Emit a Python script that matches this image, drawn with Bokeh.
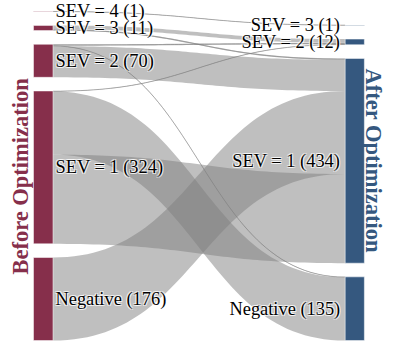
import numpy as np
from bokeh.plotting import figure
from bokeh.models import Range1d
from bokeh.core.properties import value
from bokeh.embed import file_html
from bokeh.resources import INLINE

# ---------------- data ----------------
left_nodes = ["SEV = 4", "SEV = 3", "SEV = 2", "SEV = 1", "Negative"]
left_counts = [1, 11, 70, 324, 176]
right_nodes = ["SEV = 3", "SEV = 2", "SEV = 1", "Negative"]
right_counts = [1, 12, 434, 135]

link_from = ["SEV = 4", "SEV = 3", "SEV = 3", "SEV = 2", "SEV = 2", "SEV = 2",
             "SEV = 1", "SEV = 1", "SEV = 1", "Negative"]
link_to = ["SEV = 3", "SEV = 2", "SEV = 1", "SEV = 2", "Negative", "SEV = 1",
           "SEV = 2", "Negative", "SEV = 1", "SEV = 1"]
link_value = [1, 8, 3, 3, 1, 66, 1, 134, 189, 176]

stack_rank = ["SEV = 4", "SEV = 3", "SEV = 2", "Negative", "SEV = 1"]
left_title = "Before Optimization"
right_title = "After Optimization"

# ---------------- layout ----------------
K = 0.4828      # px per unit
PAD = 14
BOTTOM = 356
LX0, LX1 = 33.5, 53.3
RX0, RX1 = 350.0, 369.5
LEFT_COLOR = "#862F4B"
RIGHT_COLOR = "#35587F"


def stack(counts):
    total = sum(counts) * K + (len(counts) - 1) * PAD
    y = BOTTOM - total
    tops, bots = [], []
    for c in counts:
        tops.append(y)
        bots.append(y + c * K)
        y += c * K + PAD
    return tops, bots


ltops, lbots = stack(left_counts)
rtops, rbots = stack(right_counts)
ltop = dict(zip(left_nodes, ltops))
rtop = dict(zip(right_nodes, rtops))

n = len(link_value)
src_y = [0.0] * n
tgt_y = [0.0] * n
for name in left_nodes:
    idx = [i for i in range(n) if link_from[i] == name]
    idx.sort(key=lambda i: stack_rank.index(link_to[i]))
    y = ltop[name]
    for i in idx:
        src_y[i] = y
        y += link_value[i] * K
for name in right_nodes:
    idx = [i for i in range(n) if link_to[i] == name]
    idx.sort(key=lambda i: stack_rank.index(link_from[i]))
    y = rtop[name]
    for i in idx:
        tgt_y[i] = y
        y += link_value[i] * K

t = np.linspace(0, 1, 60)
xm = (LX1 + RX0) / 2


def bez(y0, y1):
    x = (1 - t) ** 3 * LX1 + 3 * (1 - t) ** 2 * t * xm + 3 * (1 - t) * t ** 2 * xm + t ** 3 * RX0
    y = (1 - t) ** 3 * y0 + 3 * (1 - t) ** 2 * t * y0 + 3 * (1 - t) * t ** 2 * y1 + t ** 3 * y1
    return x, y


pxs, pys, lxs, lys = [], [], [], []
for i in range(n):
    h = link_value[i] * K
    xt, yt = bez(src_y[i], tgt_y[i])
    xb, yb = bez(src_y[i] + h, tgt_y[i] + h)
    pxs.append(list(xt) + list(xb[::-1]))
    pys.append(list(yt) + list(yb[::-1]))
    if link_value[i] <= 3:
        xc, yc = bez(src_y[i] + h / 2, tgt_y[i] + h / 2)
        lxs.append(list(xc))
        lys.append(list(yc))

# ---------------- figure ----------------
p = figure(width=388, height=342, output_backend="svg", toolbar_location=None,
           x_range=Range1d(0, 394), y_range=Range1d(358, 8), min_border=0)
p.axis.visible = False
p.grid.visible = False
p.outline_line_color = None
p.background_fill_color = "white"

p.patches(pxs, pys, fill_color="gray", fill_alpha=0.5, line_color=None)
p.multi_line(lxs, lys, line_color="gray", line_alpha=0.6, line_width=1)

p.quad(left=LX0, right=LX1, top=ltops, bottom=lbots, fill_color=LEFT_COLOR,
       line_color="white", line_width=0.5)
p.quad(left=RX0, right=RX1, top=rtops, bottom=rbots, fill_color=RIGHT_COLOR,
       line_color="white", line_width=0.5)

llabels = [f"{nm} ({c})" for nm, c in zip(left_nodes, left_counts)]
rlabels = [f"{nm} ({c})" for nm, c in zip(right_nodes, right_counts)]
lcy = [(a + b) / 2 for a, b in zip(ltops, lbots)]
rcy = [(a + b) / 2 for a, b in zip(rtops, rbots)]

font = value("Liberation Serif")
LFS = "18.4px"
for dx, dy in [(1, 1), (-1, -1), (1, -1), (-1, 1)]:
    p.text(x=[LX1 + 2.5] * len(llabels), y=lcy, text=llabels, text_font=font,
           text_font_size=LFS, text_baseline="middle", text_align="left",
           text_color="white", text_alpha=0.7, x_offset=dx, y_offset=dy)
    p.text(x=[RX0 - 5] * len(rlabels), y=rcy, text=rlabels, text_font=font,
           text_font_size=LFS, text_baseline="middle", text_align="right",
           text_color="white", text_alpha=0.7, x_offset=dx, y_offset=dy)
p.text(x=[LX1 + 2.5] * len(llabels), y=lcy, text=llabels, text_font=font,
       text_font_size=LFS, text_baseline="middle", text_align="left",
       text_color="black")
p.text(x=[RX0 - 5] * len(rlabels), y=rcy, text=rlabels, text_font=font,
       text_font_size=LFS, text_baseline="middle", text_align="right",
       text_color="black")

p.text(x=[20.5], y=[188], text=[left_title], text_font=font, text_font_size="22.5px",
       text_font_style="bold", text_color=LEFT_COLOR, text_align="center",
       text_baseline="middle", angle=np.pi / 2)
p.text(x=[378.5], y=[172], text=[right_title], text_font=font, text_font_size="22.5px",
       text_font_style="bold", text_color=RIGHT_COLOR, text_align="center",
       text_baseline="middle", angle=-np.pi / 2)

open("out.html", "w").write(file_html(p, INLINE))
